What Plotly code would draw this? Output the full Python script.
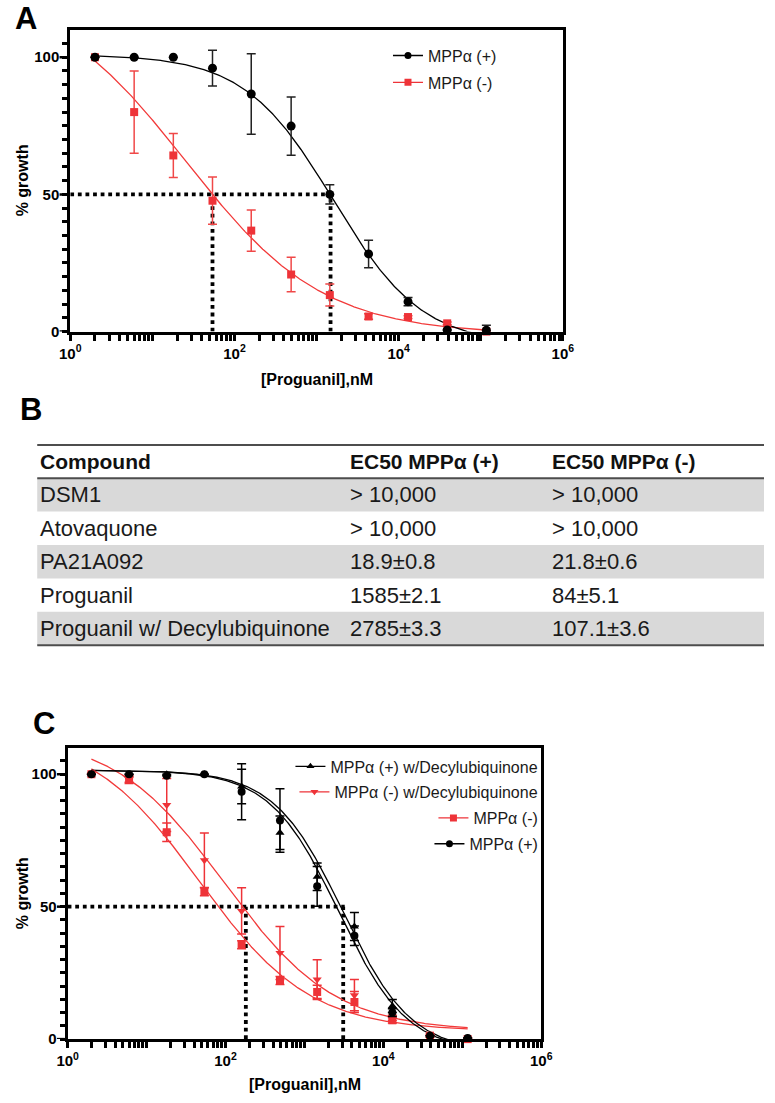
import numpy as np
import plotly.graph_objects as go

# ---------------- DATA ----------------
# Proguanil concentrations (nM), 3-fold dilution series
conc = [2, 6, 18, 54, 160, 490, 1450, 4300, 13000, 39000, 117000]

# Panel A
a_plus_mean = [100, 100, 100, 96, 86.6, 74.9, 50, 28.3, 10.9, 0.6, 0.5]
a_plus_sd = [0, 0, 0, 6.5, 14.7, 10.6, 3.5, 5.0, 1.5, 0, 1.8]
a_minus_mean = [100, 80, 64.2, 47.7, 36.8, 20.8, 13.3, 5.5, 5.3, 3.0, 0]
a_minus_sd = [0, 15, 8, 8.6, 7.5, 6.3, 4.0, 1.0, 0.5, 0.5, 0]
# fitted 4PL parameters: top, bottom, EC50, Hill
a_plus_fit = [101, -5, 1594, 0.8]
a_minus_fit = [125, -1, 25.7, 0.52]
a_ec50_marks = [54, 1480]
a_hline_end = 1660

# Panel C
c_plus_decyl_mean = [100, 100, 100, 100, 95.4, 77.9, 61.3, 42.5, 12.5, 1.3, 0.4]
c_plus_decyl_sd = [0, 0, 0, 0, 6.5, 6.3, 5.2, 5.3, 2.5, 0, 0]
c_minus_decyl_mean = [100, 98, 88.4, 67.5, 48.4, 32.5, 22.5, 16.6, 8.0, 1.3, 0]
c_minus_decyl_sd = [0, 1, 10, 10.3, 8.7, 10, 7.5, 5.9, 1.0, 0, 0]
c_minus_mean = [100, 98, 78.1, 55.6, 35.6, 22.1, 17.8, 14.0, 7.1, 1.3, 0]
c_minus_sd = [0, 1.5, 3.5, 1.5, 1.5, 1.5, 2.5, 4.0, 1.0, 0.5, 0]
c_plus_mean = [100, 100, 99.4, 100, 93.4, 82.5, 57.7, 39.0, 10.0, 1.3, 0.4]
c_plus_sd = [0, 0, 0, 0, 10.6, 12, 7.5, 3.7, 1.5, 0, 0]
c_plus_decyl_fit = [101.5, -5, 3050, 1.0]
c_minus_decyl_fit = [115, 3, 96.6, 0.62]
c_minus_fit = [116, 3, 47, 0.62]
c_plus_fit = [101.5, -5, 2700, 1.0]
c_ec50_marks = [181, 3100]
c_hline_end = 3240

# Panel B table
table_header = ["Compound", "EC50 MPPα (+)", "EC50 MPPα (-)"]
table_compounds = ["DSM1", "Atovaquone", "PA21A092", "Proguanil", "Proguanil w/ Decylubiquinone"]
table_ec50_plus = ["> 10,000", "> 10,000", "18.9±0.8", "1585±2.1", "2785±3.3"]
table_ec50_minus = ["> 10,000", "> 10,000", "21.8±0.6", "84±5.1", "107.1±3.6"]

# Axis ticks
x_major_ticks = [1, 100, 1e4, 1e6]
x_major_labels = ["10<sup>0</sup>", "10<sup>2</sup>", "10<sup>4</sup>", "10<sup>6</sup>"]
y_major_ticks = [0, 50, 100]
y_major_labels = ["0", "50", "100"]

# ---------------- STYLE ----------------
W, H = 775, 1103
FONT = "Liberation Sans"
BLACK = "#000000"
RED = "#EE3338"
RED_LINE = "#F23A3A"


def px(x):
    return x / W


def py(y):
    return 1 - y / H


def logistic(x, p):
    top, bottom, ec50, hill = p
    return bottom + (top - bottom) / (1 + (x / ec50) ** hill)


x_fit = np.logspace(np.log10(conc[0]), np.log10(conc[-1]), 400)

# all log ticks (1..9 x 10^n); labels only on the major decades
x_all_ticks = [d * 10 ** e for e in range(0, 6) for d in range(1, 10)] + [1e6]
x_all_text = []
for v in x_all_ticks:
    if v in x_major_ticks:
        x_all_text.append("<b>%s</b>" % x_major_labels[x_major_ticks.index(v)])
    else:
        x_all_text.append("")
# all y ticks every 5 %; labels only on the majors
y_all_ticks = list(range(0, 106, 5))
y_all_text = []
for v in y_all_ticks:
    if v in y_major_ticks:
        y_all_text.append("<b>%s</b>" % y_major_labels[y_major_ticks.index(v)])
    else:
        y_all_text.append("")

fig = go.Figure()


def add_points(x, y, sd, color, symbol, size, xa, ya, ecolor=None):
    fig.add_trace(go.Scatter(
        x=x, y=y, mode="markers", xaxis=xa, yaxis=ya, showlegend=False,
        cliponaxis=False,
        marker=dict(symbol=symbol, size=size, color=color, line=dict(width=0)),
        error_y=dict(type="data", array=sd, symmetric=True, color=ecolor or color,
                     thickness=1.5, width=4.5),
    ))


def add_curve(p, color, xa, ya):
    fig.add_trace(go.Scatter(
        x=x_fit, y=logistic(x_fit, p), mode="lines", xaxis=xa, yaxis=ya,
        showlegend=False, line=dict(color=color, width=1.3), hoverinfo="skip",
    ))


def add_dotted(marks, hend, xa, ya):
    xs = [1, hend, None]
    ys = [50, 50, None]
    for m in marks:
        xs += [m, m, None]
        ys += [0, 50, None]
    fig.add_trace(go.Scatter(
        x=xs, y=ys, mode="lines", xaxis=xa, yaxis=ya, showlegend=False,
        line=dict(color="black", width=3.8, dash="dot"), hoverinfo="skip",
    ))


def add_legend_item(name, color, symbol, legend, xa, ya, msize=7):
    fig.add_trace(go.Scatter(
        x=[None], y=[None], mode="lines+markers", name=name, legend=legend,
        xaxis=xa, yaxis=ya,
        line=dict(color=color, width=1.3),
        marker=dict(symbol=symbol, size=msize, color=color),
    ))


# ---- Panel A ----
add_dotted(a_ec50_marks, a_hline_end, "x", "y")
add_curve(a_minus_fit, RED_LINE, "x", "y")
add_curve(a_plus_fit, BLACK, "x", "y")
add_points(conc, a_minus_mean, a_minus_sd, RED, "square", 8, "x", "y", "#F04848")
add_points(conc, a_plus_mean, a_plus_sd, BLACK, "circle", 9, "x", "y", "#222222")
add_legend_item("MPPα (+)", BLACK, "circle", "legend", "x", "y")
add_legend_item("MPPα (-)", RED, "square", "legend2", "x", "y")

# ---- Panel C ----
add_dotted(c_ec50_marks, c_hline_end, "x2", "y2")
add_curve(c_minus_fit, RED_LINE, "x2", "y2")
add_curve(c_minus_decyl_fit, RED_LINE, "x2", "y2")
add_curve(c_plus_decyl_fit, BLACK, "x2", "y2")
add_curve(c_plus_fit, BLACK, "x2", "y2")
add_points(conc, c_minus_mean, c_minus_sd, RED, "square", 8, "x2", "y2")
add_points(conc, c_minus_decyl_mean, c_minus_decyl_sd, RED, "triangle-down", 8, "x2", "y2")
add_points(conc, c_plus_decyl_mean, c_plus_decyl_sd, BLACK, "triangle-up", 8, "x2", "y2")
add_points(conc, c_plus_mean, c_plus_sd, BLACK, "circle", 8, "x2", "y2")
add_legend_item("MPPα (+) w/Decylubiquinone", BLACK, "triangle-up", "legend3", "x2", "y2")
add_legend_item("MPPα (-) w/Decylubiquinone", RED, "triangle-down", "legend4", "x2", "y2")
add_legend_item("MPPα (-)", RED, "square", "legend5", "x2", "y2")
add_legend_item("MPPα (+)", BLACK, "circle", "legend6", "x2", "y2")

# ---------------- AXES ----------------
xaxis_common = dict(
    type="log", range=[0, 6], tickmode="array", tickvals=x_all_ticks, ticktext=x_all_text,
    showline=True, linewidth=3, linecolor="black", mirror=True,
    ticks="outside", ticklen=6, tickwidth=2.5, tickcolor="black",
    showgrid=False, zeroline=False,
    tickfont=dict(family=FONT, size=15, color="black"),
)
yaxis_common = dict(
    range=[0, 110], tickmode="array", tickvals=y_all_ticks, ticktext=y_all_text,
    showline=True, linewidth=3, linecolor="black", mirror=True,
    ticks="outside", ticklen=5, tickwidth=2.5, tickcolor="black",
    showgrid=False, zeroline=False,
    tickfont=dict(family=FONT, size=15, color="black"),
)


def legend_cfg(x, y, xanchor):
    return dict(x=x, y=y, xanchor=xanchor, yanchor="middle",
                font=dict(family=FONT, size=16, color="#1a1a1a"),
                bgcolor="rgba(0,0,0,0)", borderwidth=0, itemwidth=30)


a_left, a_right, a_top, a_bottom = 61, 568, 30, 334
c_left, c_right, c_top, c_bottom = 58.3, 545.7, 753.2, 1046.7

fig.update_layout(
    width=W, height=H, margin=dict(l=0, r=0, t=0, b=0),
    paper_bgcolor="white", plot_bgcolor="white",
    font=dict(family=FONT, color="black", size=16),
    xaxis=dict(domain=[px(a_left), px(a_right)], anchor="y", **xaxis_common),
    yaxis=dict(domain=[py(a_bottom), py(a_top)], anchor="x", **yaxis_common),
    xaxis2=dict(domain=[px(c_left), px(c_right)], anchor="y2", **xaxis_common),
    yaxis2=dict(domain=[py(c_bottom), py(c_top)], anchor="x2", **yaxis_common),
    legend=legend_cfg(px(388), py(56), "left"),
    legend2=legend_cfg(px(388), py(83), "left"),
    legend3=legend_cfg(px(548), py(772), "right"),
    legend4=legend_cfg(px(548), py(797.7), "right"),
    legend5=legend_cfg(px(548), py(824), "right"),
    legend6=legend_cfg(px(548), py(850), "right"),
)

shapes = []
# longer marks at the major y ticks
for left, yref in [(a_left, "y"), (c_left, "y2")]:
    for v in y_major_ticks:
        shapes.append(dict(type="line", xref="paper", yref=yref,
                           x0=px(left - 3), x1=px(left - 11), y0=v, y1=v,
                           line=dict(color="black", width=2.5)))

# ---------------- ANNOTATIONS ----------------
ann = []


def text(x, y, s, size, bold=False, xanchor="left", yanchor="middle", angle=0, color="black"):
    ann.append(dict(
        x=px(x), y=py(y), xref="paper", yref="paper",
        text=("<b>%s</b>" % s) if bold else s, showarrow=False,
        xanchor=xanchor, yanchor=yanchor, textangle=angle,
        font=dict(family=FONT, size=size, color=color),
    ))


text(2, 19, "A", 31, bold=True)
text(7, 412, "B", 31, bold=True)
text(21, 729, "C", 31, bold=True)
text(12, 182, "% growth", 16, bold=True, xanchor="center", angle=-90)
text(315, 382, "[Proguanil],nM", 16, bold=True, xanchor="center")
text(12, 900, "% growth", 16, bold=True, xanchor="center", angle=-90)
text(303, 1092, "[Proguanil],nM", 16, bold=True, xanchor="center")

# Table
tbl_left, tbl_right = 27, 775
tbl_top, head_bot = 448.3, 481.7
row_h = 33.65
col_x = [28, 347, 555]
for i in range(len(table_compounds)):
    if i % 2 == 0:
        y0 = head_bot + i * row_h
        shapes.append(dict(type="rect", xref="paper", yref="paper",
                           x0=px(tbl_left), x1=px(tbl_right), y0=py(y0), y1=py(y0 + row_h),
                           fillcolor="#d9d9d9", line=dict(width=0), layer="below"))
for yl in [tbl_top, head_bot, head_bot + len(table_compounds) * row_h]:
    shapes.append(dict(type="line", xref="paper", yref="paper",
                       x0=px(tbl_left), x1=px(tbl_right), y0=py(yl), y1=py(yl),
                       line=dict(color="#4d4d4d", width=2)))

for j, h in enumerate(table_header):
    text(col_x[j], (tbl_top + head_bot) / 2, h, 21, bold=True, color="#111111")
for i in range(len(table_compounds)):
    yc = head_bot + (i + 0.5) * row_h
    for j, v in enumerate([table_compounds[i], table_ec50_plus[i], table_ec50_minus[i]]):
        text(col_x[j], yc, v, 22, color="#1a1a1a")

fig.update_layout(annotations=ann, shapes=shapes)

fig.write_html("out.html")
